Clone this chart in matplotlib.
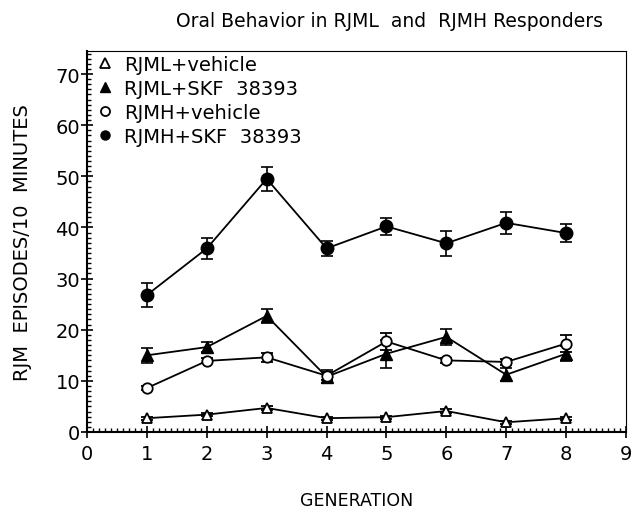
import matplotlib.pyplot as plt
from matplotlib.ticker import MultipleLocator

generation = [1, 2, 3, 4, 5, 6, 7, 8]

rjml_veh = [2.7, 3.4, 4.7, 2.7, 2.9, 4.1, 1.9, 2.7]
rjml_veh_err = [0.3, 0.3, 0.4, 0.3, 0.3, 0.4, 0.3, 0.3]

rjml_skf = [15.0, 16.6, 22.7, 10.8, 15.3, 18.6, 11.2, 15.3]
rjml_skf_err = [1.5, 1.0, 1.3, 1.3, 2.7, 1.6, 1.3, 1.5]

rjmh_veh = [8.6, 13.9, 14.6, 11.0, 17.7, 14.0, 13.7, 17.3]
rjmh_veh_err = [0.4, 0.5, 0.9, 0.8, 1.6, 0.5, 0.6, 1.7]

rjmh_skf = [26.8, 35.9, 49.5, 35.9, 40.2, 36.9, 40.9, 38.9]
rjmh_skf_err = [2.4, 2.1, 2.3, 1.4, 1.6, 2.4, 2.1, 1.7]

plt.rcParams["font.family"] = ["DejaVu Sans"]

fig = plt.figure(figsize=(6.31, 5.10), dpi=100)
ax = fig.add_axes([0.138, 0.151, 0.854, 0.747])

common = dict(color="black", linewidth=1.3, elinewidth=1.2, capsize=4, capthick=1.2)
ax.errorbar(generation, rjml_veh, yerr=rjml_veh_err, marker="^", markersize=7,
            markerfacecolor="white", markeredgecolor="black", markeredgewidth=1.3,
            label="RJML+vehicle", **common)
ax.errorbar(generation, rjml_skf, yerr=rjml_skf_err, marker="^", markersize=8,
            markerfacecolor="black", label="RJML+SKF  38393", **common)
ax.errorbar(generation, rjmh_veh, yerr=rjmh_veh_err, marker="o", markersize=7.5,
            markerfacecolor="white", markeredgecolor="black", markeredgewidth=1.3,
            label="RJMH+vehicle", **common)
ax.errorbar(generation, rjmh_skf, yerr=rjmh_skf_err, marker="o", markersize=9,
            markerfacecolor="black", label="RJMH+SKF  38393", **common)

ax.set_xlim(0, 9)
ax.set_ylim(0, 74.5)
ax.xaxis.set_major_locator(MultipleLocator(1))
ax.xaxis.set_minor_locator(MultipleLocator(0.1))
ax.yaxis.set_major_locator(MultipleLocator(10))
ax.yaxis.set_minor_locator(MultipleLocator(1))
ax.tick_params(which="major", direction="inout", length=8, width=1.2, labelsize=14,
               top=False, right=False)
ax.tick_params(which="minor", direction="in", length=3, width=1, top=False, right=False)
ax.tick_params(axis="y", pad=1)
ax.tick_params(axis="x", pad=5)

for side in ["left", "bottom"]:
    ax.spines[side].set_linewidth(1.5)
for side in ["top", "right"]:
    ax.spines[side].set_linewidth(0.8)

ax.set_xlabel("GENERATION", fontsize=12.5, labelpad=20)
ax.set_ylabel("RJM  EPISODES/10  MINUTES", fontsize=14, labelpad=17)
fig.text(0.618, 0.958, "Oral Behavior in RJML  and  RJMH Responders",
         fontsize=13.5, ha="center", va="center")

handles, labels = ax.get_legend_handles_labels()
handles = [h[0] for h in handles]
leg = ax.legend(handles, labels, loc="upper left", frameon=False, fontsize=14,
                handlelength=0.6, handletextpad=0.7, labelspacing=0.25,
                borderaxespad=0.2, bbox_to_anchor=(0.0, 1.02))
for h in leg.legend_handles:
    h.set_linestyle("none")
    h.set_markersize(6.5)

fig.savefig("out.png", dpi=100)
